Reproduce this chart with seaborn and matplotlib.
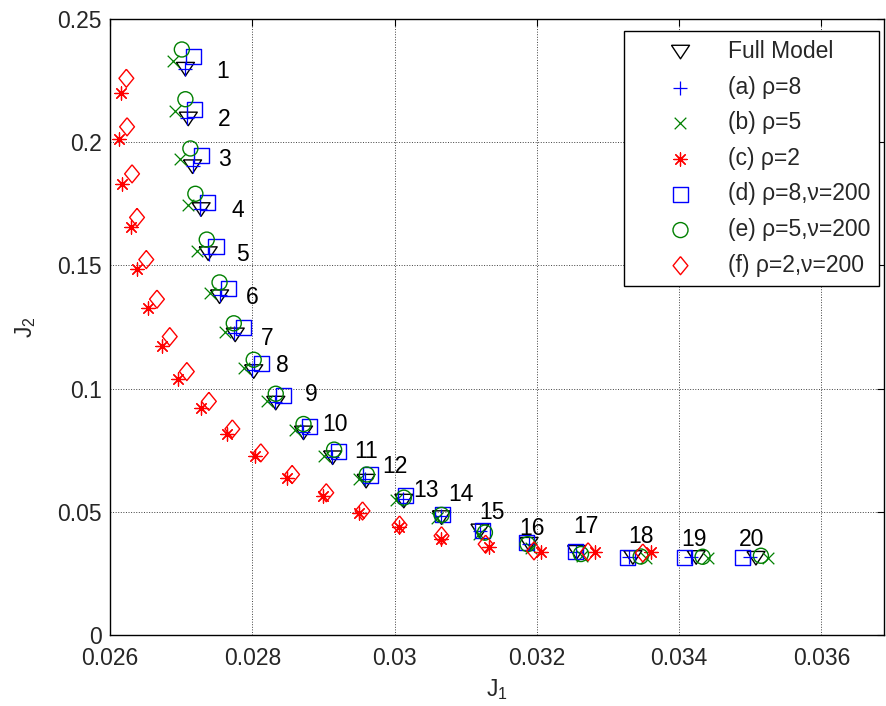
import matplotlib
matplotlib.use("Agg")
import matplotlib.pyplot as plt
import seaborn as sns

# Datos (J1, J2) para los 20 puntos de cada caso

puntos = list(range(1, 21))

full_j1 = [0.02706, 0.02710, 0.02716, 0.02728, 0.02738, 0.02754, 0.02776, 0.02802, 0.02833, 0.02872,
           0.02913, 0.02960, 0.03013, 0.03066, 0.03120, 0.03189, 0.03256, 0.03335, 0.03424, 0.03508]
full_j2 = [0.2297, 0.2095, 0.1901, 0.1727, 0.1548, 0.1373, 0.1218, 0.1069, 0.0941, 0.0820,
           0.0719, 0.0624, 0.0543, 0.0476, 0.0422, 0.0368, 0.0335, 0.0314, 0.0314, 0.0311]

a_j1 = [0.02706, 0.02708, 0.02716, 0.02726, 0.02739, 0.02755, 0.02774, 0.02800, 0.02832, 0.02871,
        0.02912, 0.02958, 0.03012, 0.03065, 0.03120, 0.03189, 0.03255, 0.03330, 0.03417, 0.03499]
a_j2 = [0.2298, 0.2097, 0.1905, 0.1731, 0.1548, 0.1379, 0.1225, 0.1076, 0.0947, 0.0825,
        0.0724, 0.0631, 0.0550, 0.0481, 0.0421, 0.0368, 0.0336, 0.0314, 0.0314, 0.0314]

b_j1 = [0.02689, 0.02692, 0.02699, 0.02709, 0.02723, 0.02741, 0.02761, 0.02789, 0.02821, 0.02860,
        0.02901, 0.02950, 0.03002, 0.03060, 0.03119, 0.03192, 0.03264, 0.03354, 0.03440, 0.03525]
b_j2 = [0.2330, 0.2128, 0.1932, 0.1744, 0.1559, 0.1390, 0.1229, 0.1083, 0.0948, 0.0833,
        0.0725, 0.0631, 0.0547, 0.0476, 0.0409, 0.0352, 0.0321, 0.0311, 0.0311, 0.0311]

c_j1 = [0.02615, 0.02613, 0.02617, 0.02629, 0.02638, 0.02653, 0.02673, 0.02696, 0.02728, 0.02765,
        0.02804, 0.02849, 0.02899, 0.02950, 0.03006, 0.03065, 0.03133, 0.03206, 0.03282, 0.03361]
c_j2 = [0.2202, 0.2013, 0.1831, 0.1656, 0.1487, 0.1326, 0.1174, 0.1040, 0.0922, 0.0816,
        0.0725, 0.0638, 0.0564, 0.0496, 0.0436, 0.0388, 0.0355, 0.0335, 0.0337, 0.0335]

d_j1 = [0.02717, 0.02719, 0.02728, 0.02737, 0.02749, 0.02767, 0.02788, 0.02813, 0.02844, 0.02880,
        0.02921, 0.02966, 0.03015, 0.03068, 0.03124, 0.03185, 0.03254, 0.03327, 0.03408, 0.03489]
d_j2 = [0.2348, 0.2135, 0.1946, 0.1757, 0.1575, 0.1407, 0.1247, 0.1100, 0.0971, 0.0847,
        0.0746, 0.0649, 0.0564, 0.0489, 0.0422, 0.0375, 0.0337, 0.0314, 0.0314, 0.0314]

e_j1 = [0.02701, 0.02706, 0.02713, 0.02720, 0.02736, 0.02754, 0.02774, 0.02802, 0.02833, 0.02872,
        0.02915, 0.02961, 0.03013, 0.03066, 0.03127, 0.03187, 0.03262, 0.03346, 0.03433, 0.03515]
e_j2 = [0.2377, 0.2175, 0.1975, 0.1791, 0.1605, 0.1431, 0.1265, 0.1117, 0.0979, 0.0856,
        0.0752, 0.0651, 0.0557, 0.0487, 0.0415, 0.0368, 0.0328, 0.0318, 0.0317, 0.0321]

f_j1 = [0.02623, 0.02624, 0.02631, 0.02638, 0.02651, 0.02666, 0.02684, 0.02708, 0.02739, 0.02772,
        0.02812, 0.02856, 0.02904, 0.02955, 0.03007, 0.03066, 0.03128, 0.03196, 0.03272, 0.03349]
f_j2 = [0.2260, 0.2063, 0.1872, 0.1695, 0.1524, 0.1363, 0.1211, 0.1069, 0.0948, 0.0836,
        0.0739, 0.0651, 0.0577, 0.0503, 0.0446, 0.0402, 0.0368, 0.0341, 0.0337, 0.0332]

etiquetas = ['Full Model', '(a) ρ=8', '(b) ρ=5', '(c) ρ=2',
             '(d) ρ=8,ν=200', '(e) ρ=5,ν=200', '(f) ρ=2,ν=200']

x_ticks = [0.026, 0.028, 0.03, 0.032, 0.034, 0.036]
y_ticks = [0, 0.05, 0.1, 0.15, 0.2, 0.25]

# Desplazamiento de los numeros respecto al triangulo (pixeles)
num_dx = [37, 36, 32, 37, 34, 33, 32, 29, 35, 32, 33, 29, 22, 19, 12, 3, 9, 8, -2, -4]
num_dy = [0, 1, 9, 1, 1, 1, -2, 8, 11, 10, 8, 17, 13, 25, 20, 18, 28, 23, 20, 21]

# Estilo

sns.set_style("white")
plt.rcParams['font.family'] = ['Liberation Sans', 'DejaVu Sans']
plt.rcParams['mathtext.fontset'] = 'custom'
plt.rcParams['mathtext.rm'] = 'Liberation Sans'
plt.rcParams['mathtext.it'] = 'Liberation Sans'
plt.rcParams['mathtext.default'] = 'regular'

fs = 16.5

# Marcadores tipo MATLAB
tri = [(-1, 0.75), (1, 0.75), (0, -0.75), (-1, 0.75)]
rombo = [(0, 1), (0.82, 0), (0, -1), (-0.82, 0), (0, 1)]
aster = (8, 2, 0)

fig = plt.figure(figsize=(8.87, 7.06), dpi=100)
ax = fig.add_axes([0.12401, 0.10085, 0.87261, 0.87195])

series = [
    (full_j1, full_j2, tri, 'black', 169, True),
    (a_j1, a_j2, '+', 'blue', 100, False),
    (b_j1, b_j2, 'x', 'green', 70, False),
    (c_j1, c_j2, aster, 'red', 90, False),
    (d_j1, d_j2, 's', 'blue', 117, True),
    (e_j1, e_j2, 'o', 'green', 117, True),
    (f_j1, f_j2, rombo, 'red', 169, True),
]
colores = {'black': (0, 0, 0), 'blue': (0, 0, 1), 'green': (0, 0.5, 0), 'red': (1, 0, 0)}

for (xs, ys, mk, col, s, hueco), lab in zip(series, etiquetas):
    c = colores[col]
    if hueco:
        sns.scatterplot(x=xs, y=ys, marker=mk, s=s, color=c, facecolor='none',
                        edgecolor=c, linewidth=1.0, label=lab, ax=ax)
    else:
        sns.scatterplot(x=xs, y=ys, marker=mk, s=s, color=c, linewidth=0.9,
                        label=lab, ax=ax)

# Numeros de cada punto
for i, n in enumerate(puntos):
    ax.annotate(str(n), xy=(full_j1[i], full_j2[i]),
                xytext=(num_dx[i], num_dy[i] - 8.5), textcoords='offset pixels',
                ha='center', va='baseline', fontsize=fs, color='black')

ax.set_xlim(0.026, 0.03688)
ax.set_ylim(0, 0.25)
ax.set_xticks(x_ticks)
ax.set_xticklabels(['0.026', '0.028', '0.03', '0.032', '0.034', '0.036'])
ax.set_yticks(y_ticks)
ax.set_yticklabels(['0', '0.05', '0.1', '0.15', '0.2', '0.25'])

ax.grid(True, linestyle=':', color='#404040', linewidth=0.7)
ax.tick_params(direction='in', top=True, right=True, length=5, width=0.8,
               labelsize=fs, color='black')
ax.tick_params(axis='x', pad=9)
ax.tick_params(axis='y', pad=6)
for sp in ax.spines.values():
    sp.set_visible(True)
    sp.set_color('black')
    sp.set_linewidth(1.0)

ax.set_xlabel('$J_1$', fontsize=fs, labelpad=5)
ax.set_ylabel('$J_2$', fontsize=fs, labelpad=14)

leg = ax.legend(loc='upper right', bbox_to_anchor=(0.994, 0.981), borderaxespad=0,
                fontsize=fs, frameon=True, fancybox=False, framealpha=1,
                edgecolor='black', handlelength=4.13, handletextpad=0.0,
                labelspacing=0.55, borderpad=0.4, scatterpoints=1)
leg.get_frame().set_linewidth(1.0)

fig.savefig('out.png', dpi=100)
